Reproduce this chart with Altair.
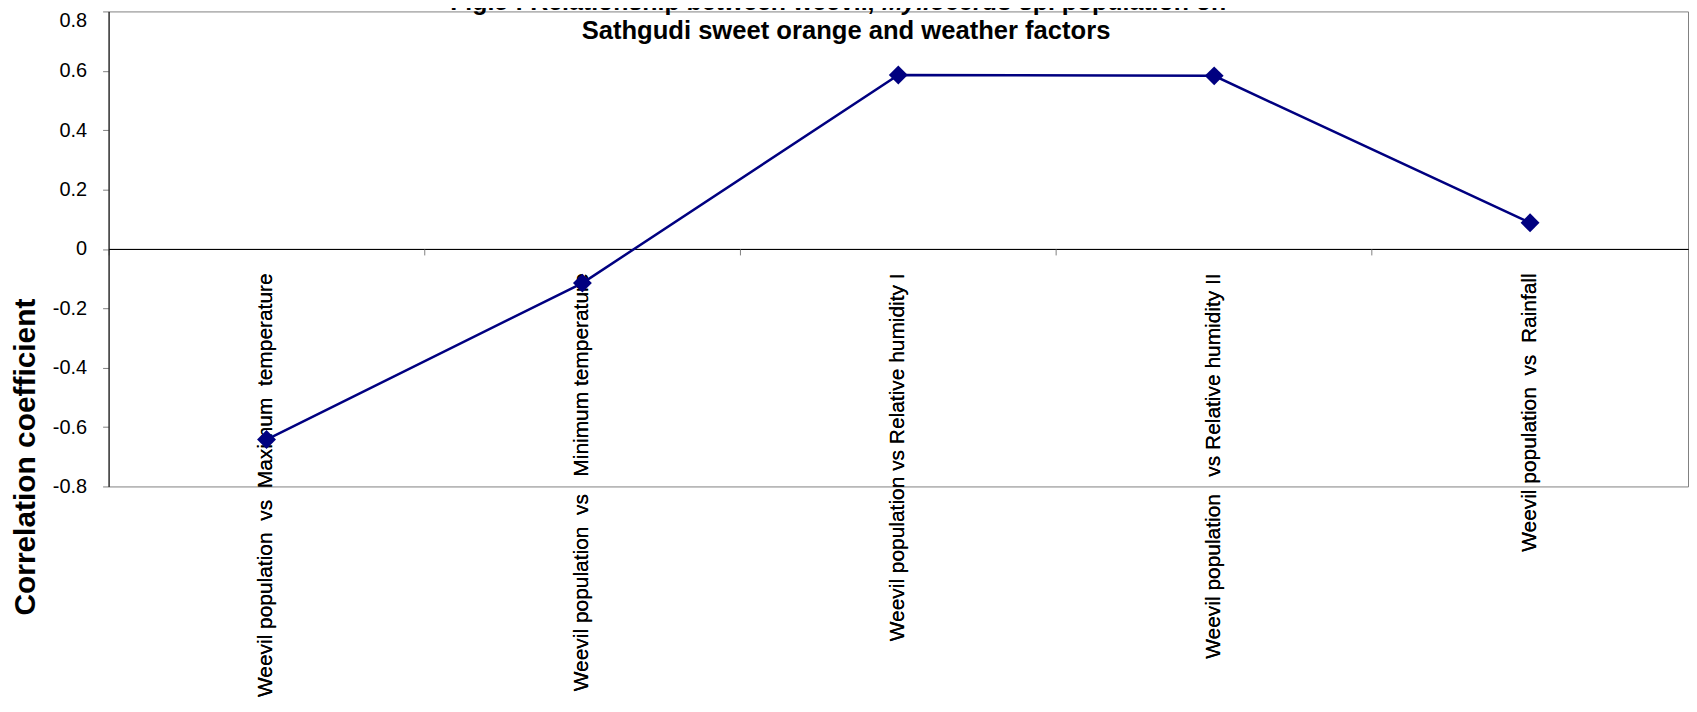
import altair as alt
import pandas as pd

NB = "\u00a0"
factors = [
    "Weevil population " + NB + "vs " + NB + "Maximum " + NB + "temperature",
    "Weevil population " + NB + "vs " + NB * 2 + "Minimum temperature",
    "Weevil population vs Relative humidity I",
    "Weevil population " + NB * 2 + "vs Relative humidity II",
    "Weevil population " + NB + "vs " + NB + "Rainfall",
]
correlation = [-0.642, -0.115, 0.586, 0.583, 0.088]
y_ticks = [-0.8, -0.6, -0.4, -0.2, 0, 0.2, 0.4, 0.6, 0.8]

title_seg1 = "Fig.5 : Relationship between weevil,"
title_seg2 = "Myllocerus"
title_seg3 = "sp. population on"
title_line2 = "Sathgudi sweet orange and weather factors"

df = pd.DataFrame({"factor": factors, "r": correlation})

W, H = 1586, 477
FONT = "Liberation Sans"
NAVY = "#000080"
GRAY = "#808080"

x_scale = alt.Scale(type="band", paddingInner=0, paddingOuter=0)
y_enc = alt.Y(
    "r:Q",
    scale=alt.Scale(domain=[-0.8, 0.8], nice=False, zero=False),
    axis=alt.Axis(
        values=y_ticks,
        labelExpr="toString(round(datum.value*10)/10)",
        labelFont=FONT, labelFontSize=20, labelColor="black", labelPadding=16,
        labelOffset={"condition": {"test": "datum.value >= 0.79", "value": 9}, "value": 0},
        tickSize=6, tickColor=GRAY, domainColor="black", grid=False,
        title="Correlation coefficient", titleFont=FONT, titleFontSize=30,
        titleFontWeight="bold", titleColor="black", titleAngle=270,
        titleX=-74, titleY=447, titleAlign="center", titleBaseline="alphabetic",
    ),
)

x_label_axis = alt.Axis(
    orient="bottom", offset=-H / 2, labelAngle=270, labelAlign="right",
    labelBaseline="middle", labelFont=FONT, labelFontSize=21, labelColor="black",
    labelPadding=24, labelLimit=1000, labelOverlap=False,
    ticks=False, tickSize=0, domain=True, domainColor="black", grid=False, title=None,
)
x_tick_axis = alt.Axis(
    orient="bottom", offset=-H / 2, bandPosition=0, labels=False, domain=False,
    ticks=True, tickSize=6, tickColor=GRAY, grid=False, title=None,
)

base = alt.Chart(df).encode(
    x=alt.X("factor:N", sort=None, scale=x_scale, axis=x_label_axis),
    y=y_enc,
)
line = base.mark_line(color=NAVY, strokeWidth=2.5)
pts = base.mark_point(shape="diamond", filled=True, color=NAVY, size=360, opacity=1)

ticks_layer = alt.Chart(df).mark_point(opacity=0).encode(
    x=alt.X("factor:N", sort=None, scale=x_scale, axis=x_tick_axis),
)

# title text (bold, with italic genus name)
fs = 25
seg1_w = 17.341 * fs
seg2_w = 5.224 * fs
x1 = 343
x2 = x1 + seg1_w
x3 = x2 + seg2_w + 0.278 * fs


def title_text(txt, x, y, align, size, style="normal"):
    return alt.Chart(pd.DataFrame({"t": [txt]})).mark_text(
        align=align, baseline="alphabetic", font=FONT, fontSize=size,
        fontWeight="bold", fontStyle=style, color="black",
    ).encode(x=alt.value(x), y=alt.value(y), text="t:N")


t1 = title_text(title_seg1, x1, -1, "left", fs)
t2 = title_text(title_seg2, x2, -1, "left", fs, "italic")
t3 = title_text(title_seg3, x3, -1, "left", fs)
t4 = title_text(title_line2, 740.5, 28, "center", 25.7)

chart = (
    alt.layer(line, pts, ticks_layer, t1, t2, t3, t4)
    .resolve_axis(x="independent")
    .properties(
        width=W, height=H,
        autosize=alt.AutoSizeParams(type="none"),
        padding={"left": 101, "top": 2, "right": 1, "bottom": 215},
        background="white",
    )
    .configure_view(stroke=GRAY, strokeWidth=1)
)

chart.save("out.html", embed_options={"renderer": "svg", "actions": False})
